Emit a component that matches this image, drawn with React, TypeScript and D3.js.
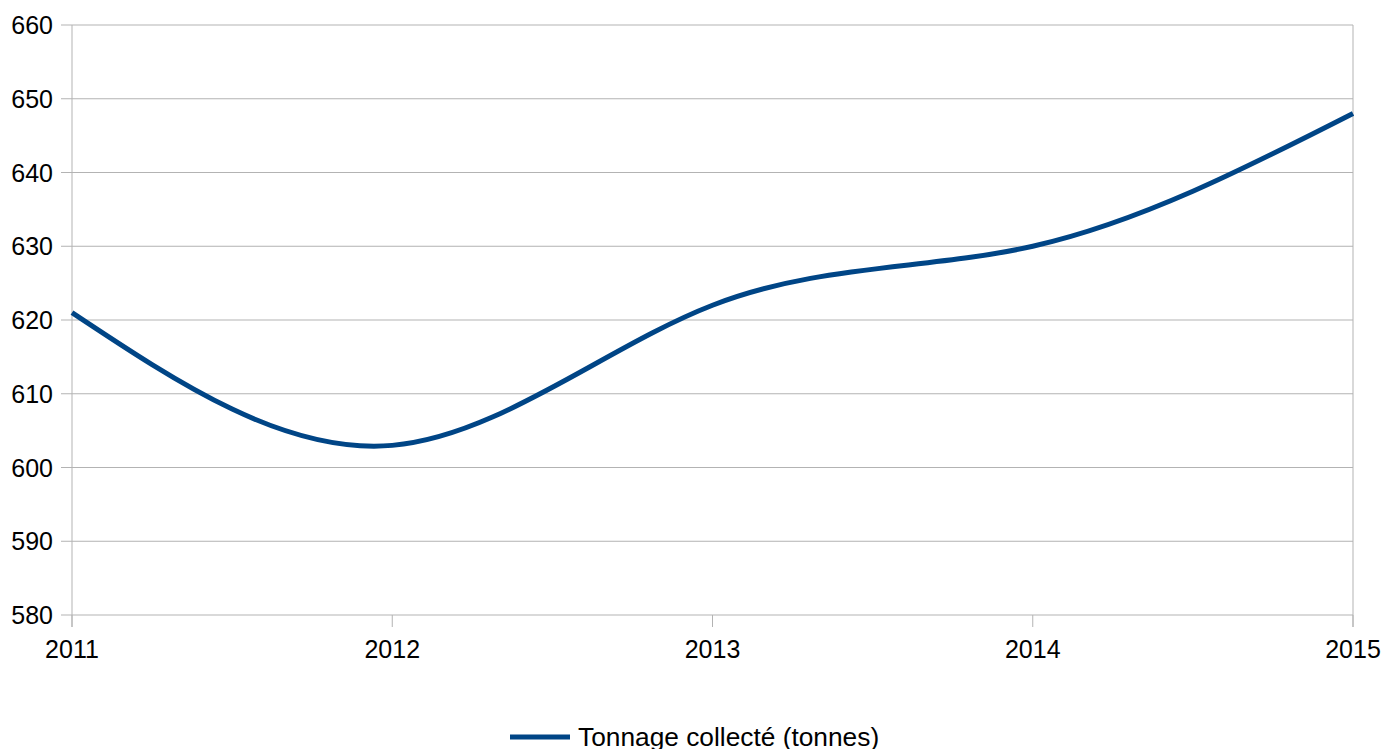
import React from "react";
import * as d3 from "d3";

const years = ["2011", "2012", "2013", "2014", "2015"];
const tonnage = [621, 603, 622, 630, 648];
const yTicks = [580, 590, 600, 610, 620, 630, 640, 650, 660];
const seriesName = "Tonnage collecté (tonnes)";

const W = 1399;
const H = 749;
const left = 72;
const right = 1353;
const top = 25;
const bottom = 615;
const font = "'Liberation Sans', Arial, sans-serif";
const lineColor = "#004586";
const gridColor = "#b3b3b3";

export default function App() {
  const x = d3.scalePoint<string>().domain(years).range([left, right]);
  const y = d3.scaleLinear().domain([580, 660]).range([bottom, top]);
  const line = d3
    .line<number>()
    .x((_, i) => x(years[i]) as number)
    .y((d) => y(d))
    .curve(d3.curveNatural);

  return (
    <svg
      width={W}
      height={H}
      style={{ position: "absolute", left: 0, top: 0, background: "#fff" }}
      fontFamily={font}
    >
      <rect x={0} y={0} width={W} height={H} fill="#fff" />
      {yTicks.map((t) => (
        <g key={t}>
          <line x1={left - 11} x2={right} y1={y(t)} y2={y(t)} stroke={gridColor} strokeWidth={1} />
          <text x={53} y={y(t)} dy="0.36em" textAnchor="end" fontSize={25} fill="#000">
            {t}
          </text>
        </g>
      ))}
      <line x1={left} x2={left} y1={top} y2={bottom + 12} stroke={gridColor} strokeWidth={1} />
      <line x1={right} x2={right} y1={top} y2={bottom + 12} stroke={gridColor} strokeWidth={1} />
      {years.map((yr) => (
        <g key={yr}>
          <line x1={x(yr)} x2={x(yr)} y1={bottom} y2={bottom + 12} stroke={gridColor} strokeWidth={1} />
          <text x={x(yr)} y={658} textAnchor="middle" fontSize={25} fill="#000">
            {yr}
          </text>
        </g>
      ))}
      <path d={line(tonnage) || ""} fill="none" stroke={lineColor} strokeWidth={5} strokeLinejoin="round" />
      <line x1={510} x2={570} y1={737} y2={737} stroke={lineColor} strokeWidth={5} />
      <text x={578} y={746} fontSize={26.3} fill="#000">
        {seriesName}
      </text>
    </svg>
  );
}
